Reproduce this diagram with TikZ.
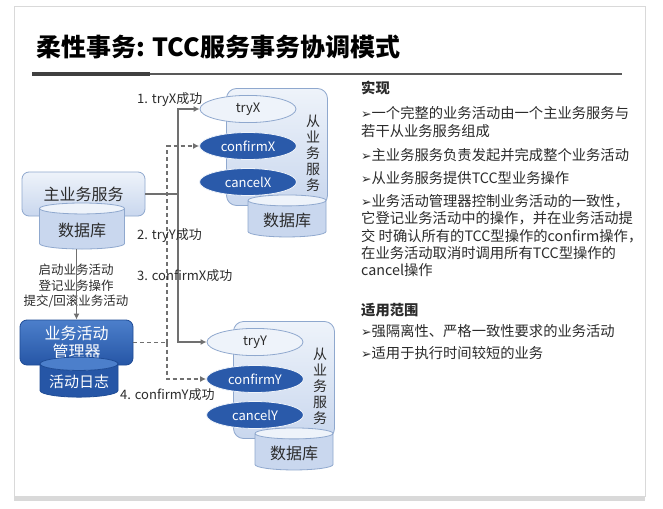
\documentclass[tikz,border=0pt]{standalone}
\usepackage{fontspec}
\setmainfont{Noto Sans CJK SC}
\newfontfamily\symfont{DejaVu Sans}
\usetikzlibrary{arrows.meta,positioning,shapes.geometric,shadows}
\definecolor{ltop}{HTML}{EEF3FA}
\definecolor{lbot}{HTML}{C9D7EE}
\definecolor{lborder}{HTML}{8FA8CE}
\definecolor{dtop}{HTML}{4C7FCB}
\definecolor{dbot}{HTML}{2656A6}
\definecolor{dborder}{HTML}{1F4C96}
\definecolor{lnc}{HTML}{707070}
\definecolor{txt}{HTML}{2B2B2B}
\newcommand{\arrbul}{{\symfont\fontsize{12.5}{12.5}\selectfont ➢}}

\begin{document}
\begin{tikzpicture}[x=1pt,y=-1pt,
  lbox/.style={draw=lborder,rounded corners=7pt,top color=ltop,bottom color=lbot,line width=0.8pt},
  dbox/.style={draw=dborder,rounded corners=7pt,top color=dtop,bottom color=dbot,line width=0.8pt,text=white},
  ldb/.style={cylinder,shape border rotate=90,aspect=0.2,draw=lborder,line width=0.8pt,cylinder uses custom fill,
    cylinder body fill=lbot,cylinder end fill=ltop,font=\fontsize{16}{16}\selectfont,text=txt},
  ddb/.style={cylinder,shape border rotate=90,aspect=0.2,draw=dborder,line width=0.8pt,cylinder uses custom fill,
    cylinder body fill=dbot,cylinder end fill=dtop,font=\fontsize{15}{15}\selectfont,text=white},
  lop/.style={ellipse,draw=lborder,fill=ltop,line width=0.8pt,minimum width=96pt,minimum height=27pt,
    font=\fontsize{13}{13}\selectfont,text=txt},
  dop/.style={ellipse,draw=ltop,fill=dbot!90!dtop,line width=0.8pt,minimum width=97pt,minimum height=27pt,
    font=\fontsize{13}{13}\selectfont,text=white},
  lbl/.style={font=\fontsize{13}{13}\selectfont,text=txt,inner sep=0},
  rtxt/.style={font=\fontsize{14.3}{14.3}\selectfont,text=txt,inner sep=0,anchor=west},
  sline/.style={draw=lnc,line width=1.4pt},
  dline/.style={draw=lnc,line width=1.4pt,dash pattern=on 4pt off 3pt},
  arr/.style={-{Latex[length=6pt,width=6pt]}}]
\useasboundingbox (0,0) rectangle (663,508);
\fill[white,drop shadow={shadow xshift=0pt,shadow yshift=-5pt,opacity=0.3}] (14,6) rectangle (645,496);
\draw[draw=black!15] (14,6) rectangle (645,496);
\node[anchor=west,inner sep=0,font=\fontsize{25}{25}\selectfont\bfseries] (title) at (36,47) {柔性事务: TCC服务事务协调模式};
\draw[line width=4pt,draw=black!75] (32,74) -- (150,74);
\draw[line width=1.5pt,draw=black!65] (150,74) -- (622,74);

\node[lbox,minimum width=123pt,minimum height=44pt,font=\fontsize{16}{16}\selectfont,text=txt] (main) at (83.5,194) {主业务服务};
\node[ldb,minimum width=85pt,minimum height=46pt] (maindb) at (82,230) {数据库};
\node[dbox,minimum width=113pt,minimum height=45pt,align=center,font=\fontsize{16}{18}\selectfont] (mgr) at (76.5,342.5) {业务活动\\管理器};
\node[ddb,minimum width=78pt,minimum height=40pt] (log) at (79,382) {活动日志};
\node[lbl,align=center,font=\fontsize{12.5}{15.5}\selectfont] (ops) at (76,286) {启动业务活动\\登记业务操作\\提交/回滚业务活动};

\foreach \s/\dx/\dy in {X/0/0,Y/7/233}{
  \node[lbox,rounded corners=10pt,minimum width=101pt,minimum height=117pt] (box\s) at (277+\dx,147+\dy) {};
  \node[lop] (try\s) at (248+\dx,109+\dy) {try\s};
  \node[dop] (confirm\s) at (248+\dx,146+\dy) {confirm\s};
  \node[dop] (cancel\s) at (248+\dx,182+\dy) {cancel\s};
  \node[align=center,inner sep=0,font=\fontsize{14}{16}\selectfont,text=txt] (name\s) at (313+\dx,153+\dy) {从\\业\\务\\服\\务};
  \node[ldb,minimum width=78pt,minimum height=42pt] (db\s) at (287+\dx,220+\dy) {数据库};
}

\coordinate (bus) at (178,194);
\coordinate (dbus) at (167,342.5);
\draw[sline] (main.east) -- (bus);
\draw[sline,arr] (bus) |- (tryX.west);
\draw[sline,arr] (bus) |- (tryY.west);
\draw[dline] (mgr.east) -- (dbus);
\draw[dline,arr] (dbus) |- (confirmX.west);
\draw[dline,arr] (dbus) |- (confirmY.west);
\draw[sline,arr] (mgr.north |- maindb.south) -- (mgr.north);

\node[lbl,anchor=west] (l1) at (137,100) {1. tryX成功};
\node[lbl,anchor=west] (l2) at (137,236) {2. tryY成功};
\node[lbl,anchor=west] (l3) at (137,276) {3. confirmX成功};
\node[lbl,anchor=west] (l4) at (120,395) {4. confirmY成功};

\node[rtxt,font=\fontsize{14.3}{14.3}\selectfont\bfseries] (h1) at (361,88) {实现};
\foreach \y/\t [count=\i] in {113/\arrbul 一个完整的业务活动由一个主业务服务与,131/若干从业务服务组成,
  155/\arrbul 主业务服务负责发起并完成整个业务活动,178/\arrbul 从业务服务提供TCC型业务操作,
  201/\arrbul 业务活动管理器控制业务活动的一致性，,218/它登记业务活动中的操作，并在业务活动提,
  236/交 时确认所有的TCC型操作的confirm操作，,253/在业务活动取消时调用所有TCC型操作的,270/cancel操作}
  \node[rtxt] (r\i) at (361,\y) {\t};
\node[rtxt,font=\fontsize{14.3}{14.3}\selectfont\bfseries] (h2) at (361,310) {适用范围};
\node[rtxt] (s1) at (361,331) {\arrbul 强隔离性、严格一致性要求的业务活动};
\node[rtxt] (s2) at (361,353) {\arrbul 适用于执行时间较短的业务};
\end{tikzpicture}
\end{document}
